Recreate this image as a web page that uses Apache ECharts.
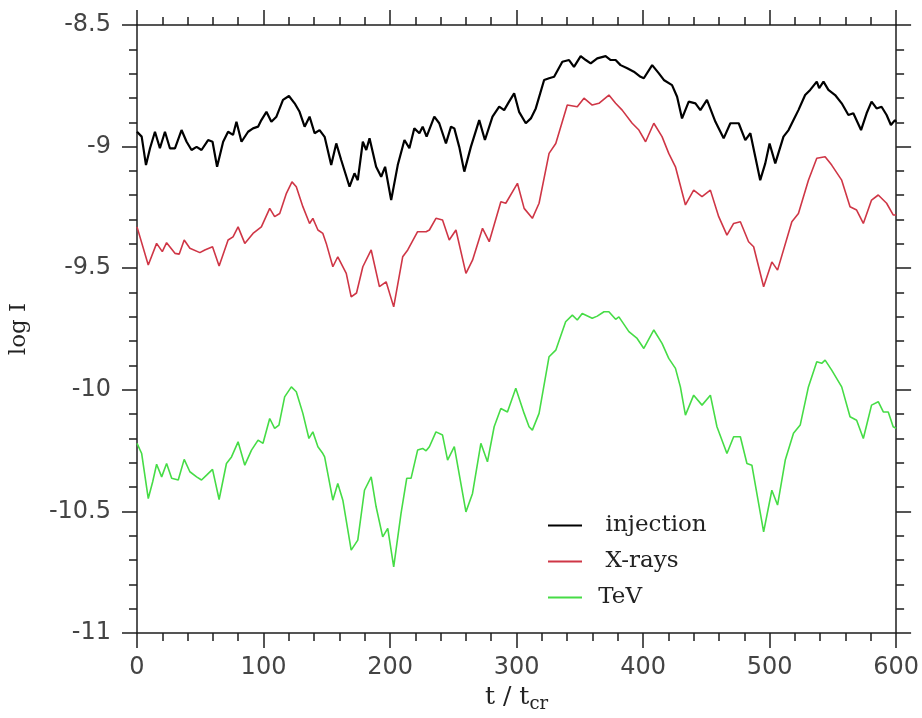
<!DOCTYPE html>
<html>
<head>
<meta charset="utf-8">
<title>log I vs t / t_cr</title>
<script src="https://cdn.jsdelivr.net/npm/echarts@6/dist/echarts.min.js"></script>
<style>
  html, body { margin: 0; padding: 0; background: #fff; }
  #chart { width: 922px; height: 718px; }
</style>
</head>
<body>
<div id="chart"></div>
<script>
// Light curves: [t / t_cr, log I]
const injection = [
  [0, -8.939], [3.7, -8.959], [7.1, -9.076], [10.3, -9.007], [14.2, -8.939], [18.1, -9.007],
  [22.1, -8.939], [26.0, -9.007], [30.0, -9.007], [35.2, -8.932], [39.2, -8.980], [43.1, -9.014],
  [47.1, -9.001], [51.0, -9.014], [56.2, -8.973], [59.7, -8.980], [63.3, -9.083], [68.1, -8.980],
  [72.0, -8.939], [75.9, -8.952], [78.6, -8.898], [82.6, -8.980], [87.8, -8.939], [91.7, -8.925],
  [95.7, -8.918], [98.3, -8.891], [102.3, -8.857], [106.2, -8.898], [110.2, -8.877], [115.4, -8.808],
  [120.1, -8.792], [124.6, -8.822], [128.5, -8.857], [132.5, -8.918], [136.4, -8.877], [140.4, -8.945],
  [144.3, -8.932], [148.3, -8.960], [153.5, -9.076], [157.5, -8.987], [161.4, -9.055], [168.0, -9.165],
  [171.9, -9.110], [174.5, -9.138], [178.5, -8.980], [181.2, -9.014], [183.8, -8.966], [189.0, -9.083],
  [193.0, -9.124], [196.1, -9.083], [200.9, -9.220], [206.1, -9.076], [211.4, -8.973], [215.3, -9.007],
  [219.2, -8.925], [223.2, -8.945], [225.8, -8.918], [228.9, -8.959], [235.0, -8.877], [238.9, -8.904],
  [244.2, -8.987], [248.2, -8.918], [250.8, -8.925], [254.7, -9.001], [258.7, -9.103], [263.9, -9.001],
  [270.5, -8.891], [275.0, -8.973], [281.0, -8.877], [286.3, -8.836], [290.2, -8.850], [294.1, -8.815],
  [298.1, -8.781], [302.0, -8.857], [307.3, -8.904], [311.3, -8.884], [315.2, -8.843], [321.8, -8.726],
  [325.7, -8.719], [329.7, -8.713], [336.2, -8.651], [341.5, -8.644], [345.4, -8.672], [350.7, -8.628],
  [354.7, -8.644], [358.6, -8.658], [363.8, -8.637], [370.4, -8.628], [374.4, -8.644], [378.3, -8.644],
  [382.2, -8.665], [387.5, -8.678], [392.7, -8.692], [398.0, -8.713], [400.6, -8.719], [407.2, -8.665],
  [412.5, -8.699], [416.4, -8.726], [422.9, -8.747], [426.9, -8.795], [430.8, -8.884], [436.1, -8.815],
  [441.4, -8.822], [445.3, -8.850], [450.5, -8.808], [457.2, -8.898], [463.7, -8.966], [469.0, -8.904],
  [475.6, -8.904], [480.8, -8.973], [484.8, -8.945], [488.7, -9.042], [492.6, -9.138], [496.6, -9.069],
  [500.0, -8.987], [504.5, -9.069], [511.0, -8.959], [515.0, -8.932], [518.9, -8.891], [522.8, -8.850],
  [528.1, -8.788], [532.1, -8.767], [537.3, -8.733], [539.2, -8.760], [542.6, -8.733], [546.5, -8.767],
  [551.8, -8.788], [557.0, -8.822], [562.3, -8.870], [566.2, -8.863], [572.3, -8.932], [576.7, -8.863],
  [580.6, -8.815], [584.6, -8.843], [588.5, -8.836], [592.5, -8.870], [595.9, -8.911], [599.1, -8.891],
  [600, -8.899]
];

const xrays = [
  [0, -9.330], [8.9, -9.487], [15.5, -9.398], [20.0, -9.432], [23.4, -9.395], [30.0, -9.439],
  [33.4, -9.442], [37.3, -9.384], [41.8, -9.418], [49.7, -9.436], [53.6, -9.425], [59.7, -9.412],
  [64.9, -9.491], [72.0, -9.384], [75.9, -9.371], [79.9, -9.330], [85.2, -9.398], [91.7, -9.357],
  [98.3, -9.330], [104.9, -9.254], [108.8, -9.288], [112.8, -9.275], [118.1, -9.192], [122.5, -9.145],
  [125.9, -9.165], [131.1, -9.247], [136.4, -9.316], [139.0, -9.295], [143.0, -9.343], [146.9, -9.357],
  [149.6, -9.398], [154.8, -9.494], [158.7, -9.453], [165.4, -9.521], [169.3, -9.618], [173.5, -9.602],
  [178.5, -9.494], [185.1, -9.425], [191.6, -9.576], [196.9, -9.556], [202.9, -9.659], [210.0, -9.453],
  [214.0, -9.425], [221.8, -9.350], [228.5, -9.350], [231.1, -9.343], [236.3, -9.295], [241.5, -9.302],
  [246.8, -9.384], [252.1, -9.343], [260.0, -9.521], [265.2, -9.467], [273.1, -9.336], [278.4, -9.391],
  [287.6, -9.227], [291.5, -9.233], [300.7, -9.151], [306.0, -9.254], [312.5, -9.295], [317.8, -9.233],
  [325.7, -9.028], [331.0, -8.987], [340.1, -8.829], [348.0, -8.836], [353.3, -8.801], [359.8, -8.829],
  [365.1, -8.822], [373.0, -8.788], [378.3, -8.822], [383.5, -8.850], [391.4, -8.904], [396.7, -8.932],
  [402.0, -8.980], [408.5, -8.904], [415.0, -8.959], [420.3, -9.028], [425.6, -9.083], [433.5, -9.240],
  [440.0, -9.179], [446.6, -9.206], [453.2, -9.179], [459.8, -9.288], [466.3, -9.364], [471.6, -9.316],
  [476.9, -9.309], [483.4, -9.391], [487.4, -9.412], [495.3, -9.576], [501.8, -9.474], [506.3, -9.508],
  [517.6, -9.309], [522.8, -9.275], [530.7, -9.138], [537.3, -9.048], [543.9, -9.042], [549.1, -9.076],
  [557.0, -9.138], [563.6, -9.247], [568.8, -9.261], [574.1, -9.316], [580.6, -9.220], [585.9, -9.199],
  [592.5, -9.233], [597.7, -9.281], [600, -9.281]
];

const tev = [
  [0, -10.220], [3.7, -10.262], [8.9, -10.447], [12.4, -10.378], [15.5, -10.306], [19.5, -10.358],
  [23.4, -10.303], [27.4, -10.364], [32.6, -10.371], [37.3, -10.286], [41.8, -10.337], [47.1, -10.358],
  [51.0, -10.371], [55.0, -10.351], [59.7, -10.327], [64.9, -10.451], [70.7, -10.303], [74.7, -10.276],
  [79.9, -10.214], [85.2, -10.310], [90.5, -10.248], [95.7, -10.207], [99.6, -10.220], [104.9, -10.118],
  [108.8, -10.159], [112.2, -10.145], [116.7, -10.029], [122.0, -9.988], [125.9, -10.008], [131.1, -10.097],
  [135.9, -10.200], [139.0, -10.173], [143.0, -10.234], [146.9, -10.262], [148.3, -10.276], [154.8, -10.454],
  [158.7, -10.385], [162.7, -10.454], [169.3, -10.659], [174.5, -10.618], [179.8, -10.413], [185.1, -10.358],
  [189.0, -10.481], [194.2, -10.605], [198.2, -10.570], [202.9, -10.728], [208.7, -10.508], [213.2, -10.364],
  [216.6, -10.364], [221.8, -10.248], [225.8, -10.241], [228.5, -10.251], [231.1, -10.234], [236.3, -10.173],
  [241.5, -10.186], [245.5, -10.289], [250.8, -10.234], [260.0, -10.502], [265.2, -10.426], [271.8, -10.220],
  [277.0, -10.296], [282.3, -10.152], [287.6, -10.077], [292.8, -10.091], [299.4, -9.994], [306.0, -10.097],
  [309.9, -10.152], [312.5, -10.166], [317.8, -10.097], [325.7, -9.864], [331.0, -9.837], [338.8, -9.720],
  [344.1, -9.693], [348.0, -9.713], [351.9, -9.686], [359.8, -9.706], [363.8, -9.697], [369.1, -9.679],
  [373.0, -9.679], [378.3, -9.710], [380.9, -9.700], [388.8, -9.761], [395.3, -9.789], [400.6, -9.830],
  [408.5, -9.754], [415.0, -9.809], [420.3, -9.871], [425.6, -9.912], [429.5, -9.988], [433.5, -10.104],
  [440.0, -10.022], [446.6, -10.063], [453.2, -10.022], [458.4, -10.152], [466.3, -10.262], [471.6, -10.193],
  [476.9, -10.193], [482.1, -10.303], [486.0, -10.310], [495.3, -10.584], [501.8, -10.413], [506.3, -10.474],
  [512.4, -10.289], [518.9, -10.179], [524.2, -10.145], [530.7, -9.988], [537.3, -9.885], [541.2, -9.891],
  [543.9, -9.878], [549.1, -9.919], [557.0, -9.988], [563.6, -10.111], [568.8, -10.125], [574.1, -10.200],
  [580.6, -10.063], [585.9, -10.049], [589.9, -10.091], [593.8, -10.091], [597.7, -10.152], [600, -10.158]
];

const seriesNames = ['injection', 'X-rays', 'TeV'];
const seriesColors = ['#000000', '#cf3646', '#46dc46'];

const axisColor = '#1e1e1e';
const labelColor = '#444444';
const sansFont = 'DejaVu Sans';
const serifFont = 'DejaVu Serif';

function frameAxis(extra) {
  return Object.assign({
    axisLine: { show: true, onZero: false, lineStyle: { color: axisColor, width: 1.5 } },
    axisTick: { show: true, inside: false, length: 15, lineStyle: { color: axisColor, width: 1.5 } },
    minorTick: { show: true, splitNumber: 5, length: 8, lineStyle: { color: axisColor, width: 1.5 } },
    splitLine: { show: false },
    minorSplitLine: { show: false }
  }, extra);
}

const chart = echarts.init(document.getElementById('chart'), null, { renderer: 'canvas' });

chart.setOption({
  animation: false,
  backgroundColor: '#ffffff',
  grid: { left: 137, right: 24, top: 25, bottom: 85, containLabel: false },
  xAxis: [
    frameAxis({
      type: 'value', position: 'bottom', min: 0, max: 600, interval: 100,
      axisLabel: { show: true, margin: 23, fontSize: 24, color: labelColor, fontFamily: sansFont },
      name: 't / t{sub|cr}',
      nameLocation: 'middle',
      nameGap: 47,
      nameTextStyle: {
        fontFamily: serifFont, fontSize: 25, color: '#222',
        rich: { sub: { fontFamily: serifFont, fontSize: 18, color: '#222', verticalAlign: 'bottom', padding: [13, 0, 0, 0] } }
      }
    }),
    frameAxis({
      type: 'value', position: 'top', min: 0, max: 600, interval: 100,
      axisLabel: { show: false }
    })
  ],
  yAxis: [
    frameAxis({
      type: 'value', position: 'left', min: -11, max: -8.5, interval: 0.5,
      axisLabel: { show: true, margin: 26, fontSize: 24, color: labelColor, fontFamily: sansFont },
      name: 'log I',
      nameLocation: 'middle',
      nameGap: 106,
      nameRotate: 90,
      nameTextStyle: { fontFamily: serifFont, fontSize: 23, color: '#222' }
    }),
    frameAxis({
      type: 'value', position: 'right', min: -11, max: -8.5, interval: 0.5,
      axisLabel: { show: false }
    })
  ],
  legend: {
    orient: 'vertical',
    left: 543,
    top: 509,
    itemWidth: 34,
    itemHeight: 2,
    itemGap: 13,
    icon: 'rect',
    data: seriesNames,
    formatter: function (name) { return name === 'TeV' ? ' ' + name : '  ' + name; },
    textStyle: { fontFamily: serifFont, fontSize: 23, color: '#222', padding: [0, 0, 0, 4] }
  },
  series: [
    { name: seriesNames[0], data: injection, width: 2.2 },
    { name: seriesNames[1], data: xrays, width: 1.6 },
    { name: seriesNames[2], data: tev, width: 1.6 }
  ].map(function (s, i) {
    return {
      name: s.name,
      type: 'line',
      xAxisIndex: 0,
      yAxisIndex: 0,
      data: s.data,
      showSymbol: false,
      symbol: 'none',
      smooth: false,
      color: seriesColors[i],
      lineStyle: { color: seriesColors[i], width: s.width },
      z: 3 - i
    };
  })
});
</script>
</body>
</html>
